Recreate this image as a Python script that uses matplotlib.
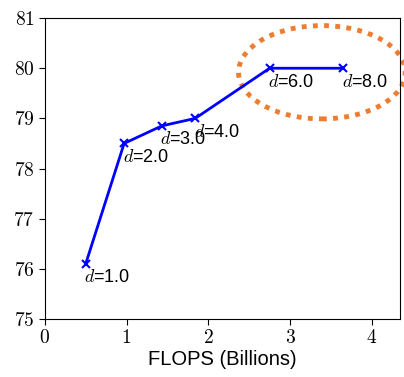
import matplotlib
matplotlib.use("Agg")
import matplotlib.pyplot as plt
from matplotlib.patches import Ellipse
from matplotlib.ticker import FuncFormatter

plt.rcParams['mathtext.fontset'] = 'cm'
plt.rcParams['font.family'] = ['Liberation Sans', 'DejaVu Sans']

flops = [0.5, 0.97, 1.43, 1.84, 2.75, 3.65]
accuracy = [76.1, 78.5, 78.85, 79.0, 80.0, 80.0]
depths = ["1.0", "2.0", "3.0", "4.0", "6.0", "8.0"]

fig = plt.figure(figsize=(4.04, 3.77), dpi=100)
ax = fig.add_axes([0.111, 0.154, 0.880, 0.798])

ax.plot(flops, accuracy, color='blue', lw=2, marker='x', ms=6, mew=1.5)

for x, y, d in zip(flops, accuracy, depths):
    ax.annotate(r"$d$=" + d, (x, y), xytext=(-1, -4), textcoords='offset points',
                ha='left', va='top', fontsize=13)

ell = Ellipse((3.39, 79.92), 2.04, 1.86, fill=False, edgecolor='#ed7d31',
              lw=3.5, linestyle=(0, (1, 1.3)), clip_on=False)
ax.add_patch(ell)

ax.set_xlim(0, 4.35)
ax.set_ylim(75, 81)
ax.set_xticks([0, 1, 2, 3, 4])
ax.set_yticks([75, 76, 77, 78, 79, 80, 81])
fmt = FuncFormatter(lambda v, p: r"$%d$" % v)
ax.xaxis.set_major_formatter(fmt)
ax.yaxis.set_major_formatter(fmt)
ax.tick_params(labelsize=14, direction='out', length=4)
ax.set_xlabel("FLOPS (Billions)", fontsize=14.5, labelpad=2)

fig.savefig("out.png", dpi=100)
